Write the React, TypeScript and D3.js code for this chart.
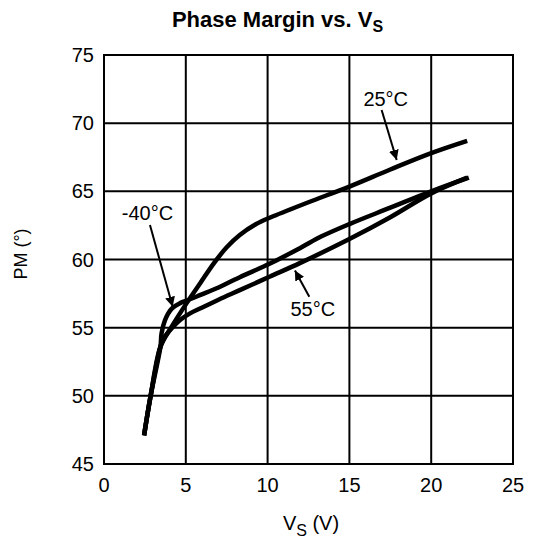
import React from "react";
import * as d3 from "d3";

const xTicks = [0, 5, 10, 15, 20, 25];
const yTicks = [45, 50, 55, 60, 65, 70, 75];

const vs25 = [2.45, 2.85, 3.45, 4.1, 5.05, 5.9, 6.7, 7.5, 8.3, 9.3, 10.2, 12.5, 15, 17.5, 20, 22.2];
const pm25 = [47.1, 50.0, 53.6, 55.0, 56.8, 58.3, 59.7, 60.9, 61.8, 62.6, 63.1, 64.2, 65.35, 66.6, 67.8, 68.7];

const vsM40 = [2.45, 2.85, 3.45, 3.52, 3.73, 4.14, 4.65, 5.15, 5.9, 7, 8.3, 10.15, 12, 13.3, 15, 17.5, 20, 22.3];
const pmM40 = [47.1, 50.0, 53.6, 54.6, 55.56, 56.4, 56.8, 57.03, 57.4, 57.95, 58.7, 59.7, 60.85, 61.7, 62.6, 63.8, 65.0, 66.0];

const vs55 = [2.45, 2.85, 3.45, 3.7, 4.14, 4.65, 5.26, 5.9, 7, 8.3, 10.15, 12, 15, 17.5, 20, 22.2];
const pm55 = [47.1, 50.0, 53.6, 54.3, 54.95, 55.56, 56.05, 56.42, 57.05, 57.75, 58.75, 59.75, 61.5, 63.1, 64.85, 66.0];

const seriesNames = ["25°C", "-40°C", "55°C"];
// label anchor [x, y] in data units, arrow start/end in data units
const labelPos = [[17.22, 71.26], [2.66, 62.9], [12.76, 55.85]];
const arrowFrom = [[16.97, 70.96], [2.81, 62.53], [12.55, 57.27]];
const arrowTo = [[17.89, 67.3], [4.2, 56.53], [11.67, 59.2]];

const W = 537, H = 540;
const FONT = "'Liberation Sans', Arial, Helvetica, sans-serif";

export default function App() {
  const x = d3.scaleLinear().domain([0, 25]).range([104, 513]);
  const y = d3.scaleLinear().domain([45, 75]).range([464, 55]);
  const line = d3
    .line<[number, number]>()
    .x((d) => x(d[0]))
    .y((d) => y(d[1]))
    .curve(d3.curveCatmullRom.alpha(0.5));

  const series = [
    d3.zip(vs25, pm25) as [number, number][],
    d3.zip(vsM40, pmM40) as [number, number][],
    d3.zip(vs55, pm55) as [number, number][],
  ];

  return (
    <svg
      width={W}
      height={H}
      style={{ position: "absolute", left: 0, top: 0, background: "#fff" }}
      fontFamily={FONT}
    >
      <defs>
        <marker id="ah" viewBox="0 0 10 10" refX="10" refY="5" markerWidth="5" markerHeight="5" orient="auto" markerUnits="strokeWidth">
          <path d="M0,0 L10,5 L0,10 z" fill="#000" />
        </marker>
      </defs>
      <rect x={0} y={0} width={W} height={H} fill="#fff" />
      {xTicks.map((t) => (
        <line key={"gx" + t} x1={x(t)} x2={x(t)} y1={y(45)} y2={y(75)} stroke="#000" strokeWidth={2} />
      ))}
      {yTicks.map((t) => (
        <line key={"gy" + t} x1={x(0)} x2={x(25)} y1={y(t)} y2={y(t)} stroke="#000" strokeWidth={2} />
      ))}
      <rect x={x(0)} y={y(75)} width={x(25) - x(0)} height={y(45) - y(75)} fill="none" stroke="#000" strokeWidth={2} />
      {xTicks.map((t) => (
        <text key={"tx" + t} x={x(t)} y={492} textAnchor="middle" fontSize={20}>
          {t}
        </text>
      ))}
      {yTicks.map((t) => (
        <text key={"ty" + t} x={94} y={y(t) + 7} textAnchor="end" fontSize={20}>
          {t}
        </text>
      ))}
      {series.map((s, i) => (
        <path key={"s" + i} d={line(s) || ""} fill="none" stroke="#000" strokeWidth={4.5} strokeLinejoin="round" strokeLinecap="butt" />
      ))}
      {seriesNames.map((n, i) => (
        <g key={"a" + i}>
          <text x={x(labelPos[i][0])} y={y(labelPos[i][1])} textAnchor="middle" fontSize={20}>
            {n}
          </text>
          <line
            x1={x(arrowFrom[i][0])}
            y1={y(arrowFrom[i][1])}
            x2={x(arrowTo[i][0])}
            y2={y(arrowTo[i][1])}
            stroke="#000"
            strokeWidth={2}
            markerEnd="url(#ah)"
          />
        </g>
      ))}
      <text x={277.5} y={27} textAnchor="middle" fontSize={22} fontWeight="bold">
        Phase Margin vs. V
        <tspan fontSize={16} dy={5}>S</tspan>
      </text>
      <text x={311} y={530} textAnchor="middle" fontSize={20}>
        V<tspan fontSize={16} dy={6}>S</tspan>
        <tspan dy={-6}> (V)</tspan>
      </text>
      <text transform="translate(27,254) rotate(-90)" textAnchor="middle" fontSize={18}>
        PM (°)
      </text>
    </svg>
  );
}
